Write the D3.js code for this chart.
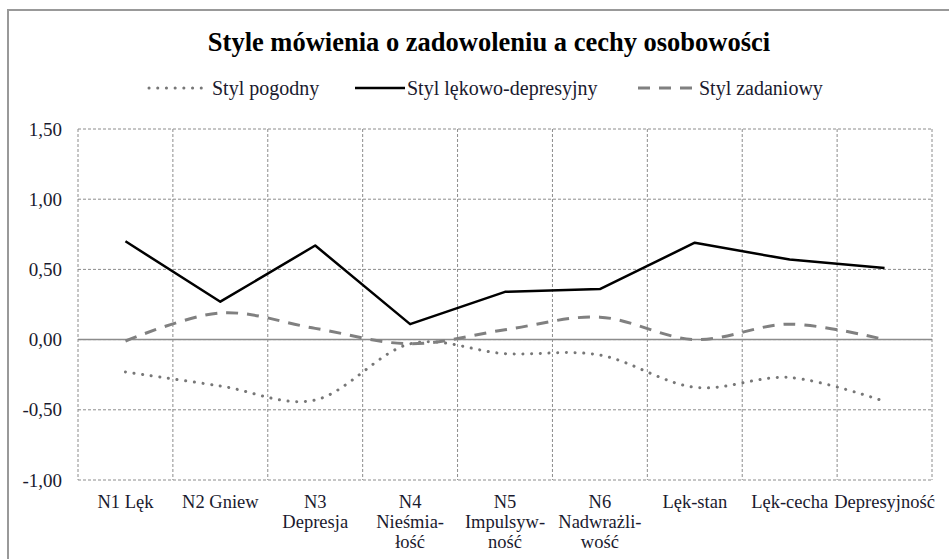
<!DOCTYPE html>
<html>
<head>
<meta charset="utf-8">
<script src="https://cdn.jsdelivr.net/npm/d3@7"></script>
<style>
  body { margin: 0; background: #fff; }
</style>
</head>
<body>
<div id="chart"></div>
<script>
const categories = ["N1 Lęk", "N2 Gniew", "N3|Depresja", "N4|Nieśmia-|łość", "N5|Impulsyw-|ność",
    "N6|Nadwrażli-|wość", "Lęk-stan", "Lęk-cecha", "Depresyjność"];
const pogodny = [-0.23, -0.33, -0.43, -0.03, -0.10, -0.11, -0.34, -0.27, -0.44];
const lekowo = [0.70, 0.27, 0.67, 0.11, 0.34, 0.36, 0.69, 0.57, 0.51];
const zadaniowy = [-0.01, 0.19, 0.08, -0.03, 0.07, 0.16, 0.00, 0.11, 0.00];
const yTicks = [-1, -0.5, 0, 0.5, 1, 1.5];

const series = [
    { name: "Styl pogodny", values: pogodny, color: "#777", width: 3, dash: "0.1,8.6", cap: "round", smooth: true },
    { name: "Styl lękowo-depresyjny", values: lekowo, color: "#000", width: 2.5, dash: null, cap: "butt", smooth: false },
    { name: "Styl zadaniowy", values: zadaniowy, color: "#808080", width: 3, dash: "12,9", cap: "butt", smooth: true }
];

const width = 949, height = 559;
const margin = { top: 129, right: 17, bottom: 79, left: 78 };
const font = "'Liberation Serif', 'Times New Roman', serif";
const textColor = "#1a1a2e";

const svg = d3.select("#chart").append("svg")
    .attr("width", width)
    .attr("height", height)
    .attr("font-family", font);

// ramka wykresu
svg.append("rect")
    .attr("x", 8).attr("y", 10)
    .attr("width", width + 20).attr("height", height + 20)
    .attr("fill", "none").attr("stroke", "#999").attr("stroke-width", 2);

const x = d3.scaleBand()
    .domain(categories)
    .range([margin.left, width - margin.right]);

const y = d3.scaleLinear()
    .domain([-1, 1.5])
    .range([height - margin.bottom, margin.top]);

// siatka
svg.append("g")
    .selectAll("line")
    .data(yTicks)
    .join("line")
    .attr("x1", margin.left).attr("x2", width - margin.right)
    .attr("y1", d => y(d)).attr("y2", d => y(d))
    .attr("stroke", "#8c8c8c")
    .attr("stroke-dasharray", "3,2")
    .attr("stroke-width", 1);

const xEdges = categories.map(c => x(c)).concat([x.range()[1]]);
svg.append("g")
    .selectAll("line")
    .data(xEdges)
    .join("line")
    .attr("x1", d => d).attr("x2", d => d)
    .attr("y1", margin.top).attr("y2", height - margin.bottom)
    .attr("stroke", "#8c8c8c")
    .attr("stroke-dasharray", "3,2")
    .attr("stroke-width", 1);

svg.append("line")
    .attr("x1", margin.left).attr("x2", width - margin.right)
    .attr("y1", y(0)).attr("y2", y(0))
    .attr("stroke", "#8c8c8c")
    .attr("stroke-width", 1.5);

// oś Y
svg.append("g")
    .selectAll("text")
    .data(yTicks)
    .join("text")
    .attr("x", 62)
    .attr("y", d => y(d))
    .attr("dy", "0.35em")
    .attr("text-anchor", "end")
    .attr("font-size", "19px")
    .attr("fill", textColor)
    .text(d => d3.format(".2f")(d).replace(".", ",").replace("−", "-"));

// oś X
const xl = svg.append("g")
    .selectAll("text")
    .data(categories)
    .join("text")
    .attr("x", d => x(d) + x.bandwidth() / 2)
    .attr("y", 508)
    .attr("text-anchor", "middle")
    .attr("font-size", "18.5px")
    .attr("fill", textColor);
xl.each(function (d) {
    d.split("|").forEach((part, i) => {
        d3.select(this).append("tspan")
            .attr("x", x(d) + x.bandwidth() / 2)
            .attr("dy", i === 0 ? 0 : 20)
            .text(part);
    });
});

// linie
series.forEach(s => {
    const line = d3.line()
        .x((d, i) => x(categories[i]) + x.bandwidth() / 2)
        .y(d => y(d))
        .curve(s.smooth ? d3.curveCatmullRom.alpha(0) : d3.curveLinear);
    svg.append("path")
        .datum(s.values)
        .attr("d", line)
        .attr("fill", "none")
        .attr("stroke", s.color)
        .attr("stroke-width", s.width)
        .attr("stroke-linecap", s.cap)
        .attr("stroke-linejoin", "round")
        .attr("stroke-dasharray", s.dash);
});

// tytuł
svg.append("text")
    .attr("x", 489)
    .attr("y", 51)
    .attr("text-anchor", "middle")
    .attr("font-size", "26.5px")
    .attr("font-weight", "bold")
    .attr("fill", "#000")
    .text("Style mówienia o zadowoleniu a cechy osobowości");

// legenda
const legendPos = [{ x1: 149, x2: 206, tx: 212 }, { x1: 355, x2: 405, tx: 407 }, { x1: 638, x2: 697, tx: 699 }];
series.forEach((s, i) => {
    const p = legendPos[i];
    svg.append("line")
        .attr("x1", p.x1).attr("x2", p.x2)
        .attr("y1", 88).attr("y2", 88)
        .attr("stroke", s.color)
        .attr("stroke-width", s.width)
        .attr("stroke-linecap", s.cap)
        .attr("stroke-dasharray", s.dash);
    svg.append("text")
        .attr("x", p.tx)
        .attr("y", 88)
        .attr("dy", "0.35em")
        .attr("font-size", "20px")
        .attr("fill", textColor)
        .text(s.name);
});
</script>
</body>
</html>
